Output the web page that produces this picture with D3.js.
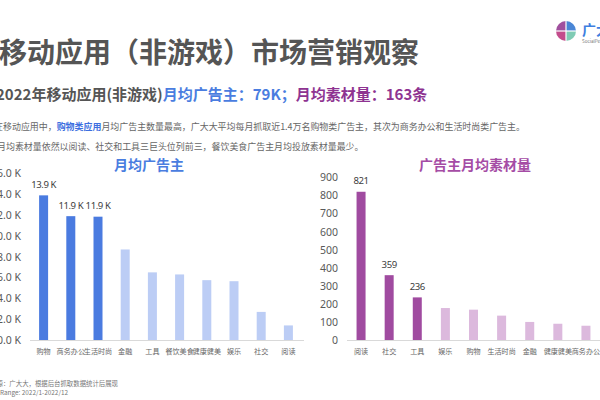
<!DOCTYPE html>
<html><head><meta charset="utf-8">
<script src="https://cdn.jsdelivr.net/npm/d3@7"></script>
<style>
html,body{margin:0;padding:0;background:#fff;overflow:hidden}
svg{display:block;font-family:"Noto Sans CJK SC","Noto Sans",sans-serif}
</style></head>
<body><svg id="c" width="600" height="400"></svg>
<script>
// ---- data ----
const advCategories = ["购物","商务办公","生活时尚","金融","工具","餐饮美食","健康健美","娱乐","社交","阅读"];
const advValues = [13.9, 11.9, 11.85, 8.7, 6.5, 6.3, 5.75, 5.65, 2.7, 1.4];
const advLabels = ["13.9 K","11.9 K","11.9 K"];
const advTicks = [0,2,4,6,8,10,12,14,16];
const advHighlight = 3;

const matCategories = ["阅读","社交","工具","娱乐","购物","生活时尚","金融","健康健美","商务办公"];
const matValues = [821, 359, 236, 177, 168, 135, 100, 90, 79];
const matTicks = [0,100,200,300,400,500,600,700,800,900];
const matHighlight = 3;

const svg = d3.select("#c");

// ---- header ----
svg.append("text").attr("x",-1).attr("y",63).attr("font-size",28).attr("font-weight",700)
  .attr("fill","#555").text("移动应用（非游戏）市场营销观察");

const sub = svg.append("text").attr("x",-4).attr("y",99.5).attr("font-size",15).attr("font-weight",700);
sub.append("tspan").attr("fill","#555").text("2022年移动应用(非游戏)");
sub.append("tspan").attr("fill","#4a7de0").text("月均广告主：79K；");
sub.append("tspan").attr("fill","#8e3391").text("月均素材量：163条");

const l1 = svg.append("text").attr("x",-5.9).attr("y",129.5).attr("font-size",8.95).attr("fill","#666");
l1.append("tspan").text("在移动应用中，");
l1.append("tspan").attr("fill","#3d6fe0").attr("font-weight",700).text("购物类应用");
l1.append("tspan").text("月均广告主数量最高，广大大平均每月抓取近1.4万名购物类广告主，其次为商务办公和生活时尚类广告主。");
svg.append("text").attr("x",-11.9).attr("y",150).attr("font-size",8.95).attr("fill","#666")
  .text("而月均素材量依然以阅读、社交和工具三巨头位列前三，餐饮美食广告主月均投放素材量最少。");

// logo
const lg = svg.append("g").attr("transform","translate(566,31)");
const arc = d3.arc().innerRadius(0).outerRadius(10);
const quad = [["#4a86d6",0,Math.PI/2],["#7fcbb4",Math.PI/2,Math.PI],["#c34c8c",Math.PI,1.5*Math.PI],["#a0509e",1.5*Math.PI,2*Math.PI]];
quad.forEach(q=>lg.append("path").attr("d",arc({startAngle:q[1],endAngle:q[2]})).attr("fill",q[0]));
lg.append("line").attr("x1",-10).attr("x2",10).attr("y1",0).attr("y2",0).attr("stroke","#fff").attr("stroke-width",1.2);
lg.append("line").attr("y1",-10).attr("y2",10).attr("x1",0).attr("x2",0).attr("stroke","#fff").attr("stroke-width",1.2);
svg.append("text").attr("x",582).attr("y",35).attr("font-size",14).attr("font-weight",700).attr("fill","#3f7fe0").text("广大");
svg.append("text").attr("x",582).attr("y",43).attr("font-size",4.5).attr("fill","#777").text("SocialPeta");

// ---- chart builder ----
function bars(cfg){
  const g = svg.append("g");
  const x = d3.scaleBand().domain(cfg.cats).range([cfg.x0,cfg.x1]).paddingInner(0).paddingOuter(0);
  const y = d3.scaleLinear().domain([0,cfg.max]).range([340,cfg.yTop]);
  const ya = g.append("g").attr("transform",`translate(${cfg.labelX},0)`)
    .call(d3.axisLeft(y).tickValues(cfg.ticks).tickSize(0).tickPadding(0).tickFormat(cfg.fmt));
  ya.select(".domain").remove();
  ya.selectAll("text").attr("font-size",10.5).attr("fill","#595959").attr("font-family",'"Noto Sans","Noto Sans CJK SC",sans-serif');
  g.append("line").attr("x1",cfg.x0).attr("x2",cfg.x1+2).attr("y1",340.5).attr("y2",340.5).attr("stroke","#d9d9d9").attr("stroke-width",1);
  const bw = 9;
  g.selectAll("rect.b").data(cfg.vals).join("rect")
    .attr("x",(d,i)=>x(cfg.cats[i])+x.bandwidth()/2-bw/2)
    .attr("y",d=>y(d)).attr("width",bw).attr("height",d=>340-y(d))
    .attr("fill",(d,i)=>i<cfg.hl?cfg.dark:cfg.light);
  g.selectAll("text.v").data(cfg.vals.slice(0,cfg.hl)).join("text")
    .attr("x",(d,i)=>x(cfg.cats[i])+x.bandwidth()/2).attr("y",d=>y(d)-7.5)
    .attr("text-anchor","middle").attr("font-size",9.6).attr("letter-spacing",-0.45).attr("fill","#404040")
    .attr("font-family",'"Noto Sans",sans-serif')
    .text((d,i)=>cfg.vlabel(d,i));
  g.selectAll("text.c").data(cfg.cats).join("text")
    .attr("x",d=>x(d)+x.bandwidth()/2).attr("y",354)
    .attr("text-anchor","middle").attr("font-size",7.1).attr("fill","#666").text(d=>d);
  g.append("text").attr("x",cfg.titleX).attr("y",170).attr("text-anchor","middle")
    .attr("font-size",14).attr("font-weight",700).attr("fill",cfg.titleColor).text(cfg.title);
}

bars({cats:advCategories, vals:advValues, ticks:advTicks, max:16, yTop:173.5, x0:30, x1:302,
  labelX:21, fmt:d=>d3.format(".1f")(d)+" K", hl:advHighlight, dark:"#4a7be0", light:"#bccdf5",
  vlabel:(d,i)=>advLabels[i], title:"月均广告主", titleX:149, titleColor:"#4a7de0"});

bars({cats:matCategories, vals:matValues, ticks:matTicks, max:900, yTop:177.5, x0:347, x1:600,
  labelX:338, fmt:d=>d, hl:matHighlight, dark:"#a04ba0", light:"#dcb9dd",
  vlabel:d=>d, title:"广告主月均素材量", titleX:475, titleColor:"#a54ca5"});

// footer
svg.append("text").attr("x",118).attr("y",385.5).attr("text-anchor","end").attr("font-size",6.4).attr("fill","#777")
  .text("数据来源：广大大，根据后台抓取数据统计后展现");
svg.append("text").attr("x",68).attr("y",394.5).attr("text-anchor","end").attr("font-size",6.4).attr("fill","#777")
  .text("Date Range: 2022/1-2022/12");
</script></body></html>
